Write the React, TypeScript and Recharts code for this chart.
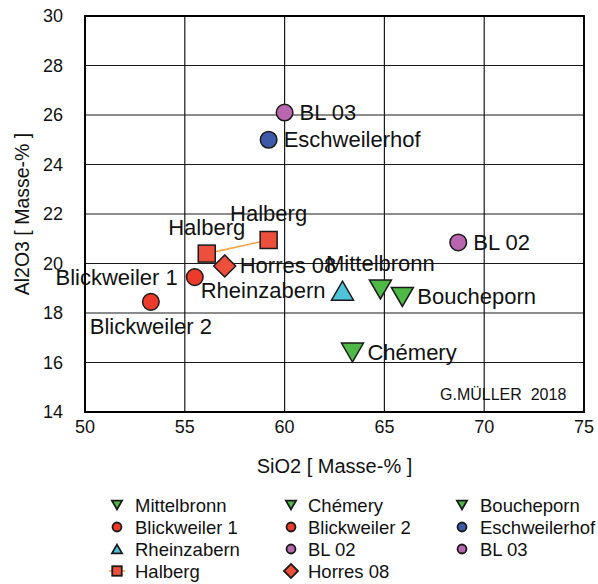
import React from "react";
import {
  ScatterChart,
  Scatter,
  XAxis,
  YAxis,
  CartesianGrid,
  ReferenceArea,
} from "recharts";

// SiO2 / Al2O3 in Masse-%
const mittelbronn = [{ sio2: 64.8, al2o3: 18.95 }];
const chemery = [{ sio2: 63.4, al2o3: 16.4 }];
const boucheporn = [{ sio2: 65.9, al2o3: 18.65 }];
const blickweiler1 = [{ sio2: 55.5, al2o3: 19.45 }];
const blickweiler2 = [{ sio2: 53.3, al2o3: 18.45 }];
const eschweilerhof = [{ sio2: 59.2, al2o3: 25.0 }];
const rheinzabern = [{ sio2: 62.9, al2o3: 18.9 }];
const bl02 = [{ sio2: 68.7, al2o3: 20.85 }];
const bl03 = [{ sio2: 60.0, al2o3: 26.1 }];
const halberg = [
  { sio2: 56.1, al2o3: 20.4 },
  { sio2: 59.2, al2o3: 20.95 },
];
const horres08 = [{ sio2: 57.0, al2o3: 19.9 }];

const xTicks = [50, 55, 60, 65, 70, 75];
const yTicks = [14, 16, 18, 20, 22, 24, 26, 28, 30];

const GREEN = "#4fb948";
const RED = "#ec3a2b";
const PURPLE = "#b866ad";
const BLUE = "#3c5aa8";
const CYAN = "#4fc3db";
const ORANGE_RED = "#ec4f3b";
const LINE = "#f5a442";
const FONT = "'Liberation Sans', Arial, Helvetica, sans-serif";

type Kind = "circle" | "square" | "diamond" | "triUp" | "triDown";
type Pos = "right" | "left" | "top" | "bottom";

const series: {
  name: string;
  data: { sio2: number; al2o3: number }[];
  kind: Kind;
  fill: string;
  label: Pos;
}[] = [
  { name: "Mittelbronn", data: mittelbronn, kind: "triDown", fill: GREEN, label: "top" },
  { name: "Chémery", data: chemery, kind: "triDown", fill: GREEN, label: "right" },
  { name: "Boucheporn", data: boucheporn, kind: "triDown", fill: GREEN, label: "right" },
  { name: "Blickweiler 1", data: blickweiler1, kind: "circle", fill: RED, label: "left" },
  { name: "Blickweiler 2", data: blickweiler2, kind: "circle", fill: RED, label: "bottom" },
  { name: "Eschweilerhof", data: eschweilerhof, kind: "circle", fill: BLUE, label: "right" },
  { name: "Rheinzabern", data: rheinzabern, kind: "triUp", fill: CYAN, label: "left" },
  { name: "BL 02", data: bl02, kind: "circle", fill: PURPLE, label: "right" },
  { name: "BL 03", data: bl03, kind: "circle", fill: PURPLE, label: "right" },
  { name: "Halberg", data: halberg, kind: "square", fill: ORANGE_RED, label: "top" },
  { name: "Horres 08", data: horres08, kind: "diamond", fill: ORANGE_RED, label: "right" },
];

const Marker = ({ kind, fill, x, y, k = 1, sw = 1.5 }: { kind: Kind; fill: string; x: number; y: number; k?: number; sw?: number }) => {
  const stroke = "#1a1a1a";
  if (kind === "circle") return <circle cx={x} cy={y} r={8.3 * k} fill={fill} stroke={stroke} strokeWidth={sw} />;
  if (kind === "square") {
    const s = 17 * k;
    return <rect x={x - s / 2} y={y - s / 2} width={s} height={s} fill={fill} stroke={stroke} strokeWidth={sw} />;
  }
  if (kind === "diamond") {
    const h = 11 * k;
    return <polygon points={`${x},${y - h} ${x + h},${y} ${x},${y + h} ${x - h},${y}`} fill={fill} stroke={stroke} strokeWidth={sw} />;
  }
  const w = 11 * k;
  const h = 9.5 * k;
  const pts =
    kind === "triUp"
      ? `${x},${y - h} ${x + w},${y + h} ${x - w},${y + h}`
      : `${x - w},${y - h} ${x + w},${y - h} ${x},${y + h}`;
  return <polygon points={pts} fill={fill} stroke={stroke} strokeWidth={sw} strokeLinejoin="miter" />;
};

const makeShape = (name: string, kind: Kind, fill: string, pos: Pos) => (props: any) => {
  const { cx, cy } = props;
  let tx = cx + 15;
  let ty = cy;
  let anchor: "start" | "end" | "middle" = "start";
  if (pos === "left") { tx = cx - 17; anchor = "end"; }
  if (pos === "top") { tx = cx; ty = cy - 26; anchor = "middle"; }
  if (pos === "bottom") { tx = cx; ty = cy + 25; anchor = "middle"; }
  return (
    <g>
      <Marker kind={kind} fill={fill} x={cx} y={cy} />
      <text x={tx} y={ty} textAnchor={anchor} dominantBaseline="central" fontSize={22} fontFamily={FONT} fill="#111">
        {name}
      </text>
    </g>
  );
};

const legendMarkerX = [117, 291, 462];
const legendTextX = [135, 308, 480];
const legendRows = [505, 527, 549, 571];
const legendScale: Record<Kind, number> = { circle: 0.54, square: 0.56, diamond: 0.64, triUp: 0.46, triDown: 0.46 };

export default function App() {
  return (
    <div style={{ position: "absolute", left: 0, top: 0, width: 598, height: 584, background: "#fff", fontFamily: FONT }}>
      <ScatterChart width={598} height={584} margin={{ top: 16, right: 14, bottom: 112, left: 0 }}>
        <CartesianGrid stroke="#1a1a1a" strokeWidth={1.2} />
        <XAxis
          type="number"
          dataKey="sio2"
          domain={[50, 75]}
          ticks={xTicks}
          height={60}
          tickLine={false}
          axisLine={{ stroke: "#000", strokeWidth: 1.8 }}
          tick={{ fill: "#111", fontSize: 18, fontFamily: FONT }}
          label={(p: any) => {
            const vb = p.viewBox;
            return (
              <text x={vb.x + vb.width / 2} y={466} textAnchor="middle" dominantBaseline="central" fontSize={20} fontFamily={FONT} fill="#111">
                SiO2 [ Masse-% ]
              </text>
            );
          }}
        />
        <YAxis
          type="number"
          dataKey="al2o3"
          domain={[14, 30]}
          ticks={yTicks}
          width={85}
          tickLine={false}
          tickMargin={16}
          axisLine={{ stroke: "#000", strokeWidth: 1.8 }}
          tick={{ fill: "#111", fontSize: 18, fontFamily: FONT }}
          label={(p: any) => {
            const vb = p.viewBox;
            const cy = vb.y + vb.height / 2;
            return (
              <text x={22} y={cy} transform={`rotate(-90 22 ${cy})`} textAnchor="middle" dominantBaseline="central" fontSize={19.5} fontFamily={FONT} fill="#111">
                Al2O3 [ Masse-% ]
              </text>
            );
          }}
        />
        <ReferenceArea x1={50} x2={75} y1={14} y2={30} fill="none" stroke="#000" strokeWidth={1.8} />
        {series.map((s) => (
          <Scatter
            key={s.name}
            name={s.name}
            data={s.data}
            isAnimationActive={false}
            line={s.name === "Halberg" ? { stroke: LINE, strokeWidth: 1.6 } : false}
            shape={makeShape(s.name, s.kind, s.fill, s.label)}
          />
        ))}
      </ScatterChart>
      <div style={{ position: "absolute", left: 440, top: 385, fontSize: 16, whiteSpace: "pre", color: "#111", lineHeight: "20px" }}>
        G.MÜLLER  2018
      </div>
      <svg width={598} height={584} style={{ position: "absolute", left: 0, top: 0, pointerEvents: "none" }}>
        {series.map((s, i) => {
          const col = i % 3;
          const x = legendMarkerX[col];
          const y = legendRows[Math.floor(i / 3)];
          return (
            <g key={s.name}>
              {s.name === "Halberg" && <line x1={x - 8} x2={x + 8} y1={y} y2={y} stroke={LINE} strokeWidth={1.6} />}
              <Marker kind={s.kind} fill={s.fill} x={x} y={y} k={legendScale[s.kind]} sw={1.8} />
              <text x={legendTextX[col]} y={y} dominantBaseline="central" fontSize={18.5} fontFamily={FONT} fill="#111">
                {s.name}
              </text>
            </g>
          );
        })}
      </svg>
    </div>
  );
}
